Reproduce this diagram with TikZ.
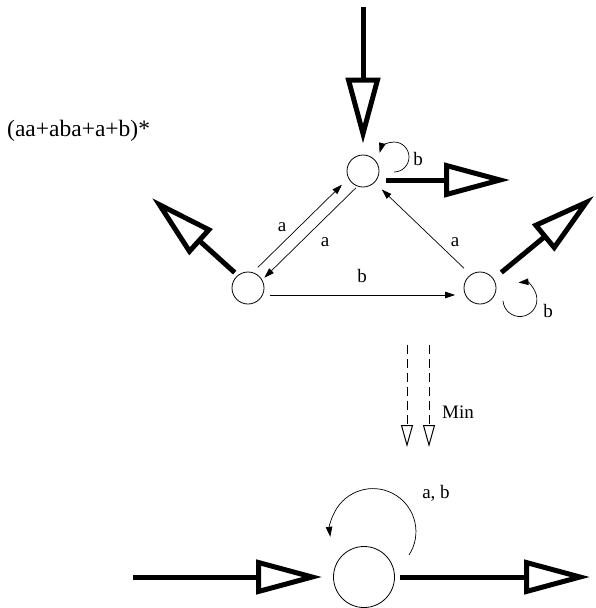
\documentclass[tikz,border=0pt]{standalone}
\usepackage{fontspec}
\setmainfont{Liberation Serif}
\usetikzlibrary{arrows.meta}
\begin{document}
\begin{tikzpicture}[x=1pt,y=-1pt,
  state/.style={circle,draw,line width=0.8pt,minimum size=32pt,inner sep=0pt},
  bigstate/.style={state,minimum size=61pt},
  trans/.style={line width=0.7pt,-{Triangle[length=10pt,width=6.5pt]}},
  io/.style={line width=5pt,-{Triangle[open,length=66pt,width=34pt]}},
  lbl/.style={font=\fontsize{19}{22}\selectfont,inner sep=0pt},
  minarrow/.style={line width=1pt,dash pattern=on 9pt off 5pt,-{Triangle[open,length=22pt,width=12pt]}}]
\useasboundingbox (0,0) rectangle (596,608);

% regular expression
\node[lbl,anchor=west,font=\fontsize{23.5}{27}\selectfont] (re) at (7,131) {(aa+aba+a+b)*};

% three-state automaton
\node[state] (q0) at (363,171) {};
\node[state] (q1) at (248,288) {};
\node[state] (q2) at (480,288) {};

% entry and exit points of the thick arrows
\coordinate (in0) at (363,7);
\coordinate (out0) at (510,180);
\coordinate (out1) at (152,198);
\coordinate (out2) at (594,196);

\draw[io,shorten >=11pt] (in0) -- (q0);
\draw[io,shorten <=7pt] ([yshift=-9pt]q0.east) -- (out0);
\draw[io,shorten <=4pt] (q1.129) -- (out1);
\draw[io,shorten <=10pt] (q2.34) -- (out2);

% transitions
\draw[trans,shorten <=7pt,shorten >=9pt] (q1.73) -- (q0.207);
\draw[trans,shorten <=2pt,shorten >=3pt] (q0.250) -- (q1.30);
\draw[trans,shorten <=9pt,shorten >=10pt] (q2.125) -- (q0.315);
\draw[trans,shorten <=5.5pt,shorten >=8.5pt] ([yshift=-7pt]q1.east) -- ([yshift=-7pt]q2.west);
\draw[trans] (q0) ++(31,1) arc[start angle=90,end angle=-164,radius=15];
\draw[trans] (q2) ++(23,13) arc[start angle=175,end angle=-95,radius=17];

\node[lbl] (la1) at (282,227) {a};
\node[lbl] (la2) at (325,242) {a};
\node[lbl] (la3) at (455,242) {a};
\node[lbl] (lb1) at (362,276) {b};
\node[lbl] (lb2) at (418,159) {b};
\node[lbl] (lb3) at (548,311) {b};

% minimisation step
\coordinate (m1s) at (407,345);
\coordinate (m1e) at (407,447);
\coordinate (m2s) at (429,345);
\coordinate (m2e) at (429,447);
\draw[minarrow] (m1s) -- (m1e);
\draw[minarrow] (m2s) -- (m2e);
\node[lbl] (min) at (458,412) {Min};

% minimal automaton
\node[bigstate] (qm) at (364,577) {};
\coordinate (inm) at (133,577);
\coordinate (outm) at (590,577);
\draw[io,shorten >=11pt] (inm) -- (qm);
\draw[io,shorten <=5pt] (qm) -- (outm);
\draw[trans] (qm) ++(45,-22) arc[start angle=33,end angle=-187,radius=43];
\node[lbl] (lab) at (436,493) {a, b};
\end{tikzpicture}
\end{document}
